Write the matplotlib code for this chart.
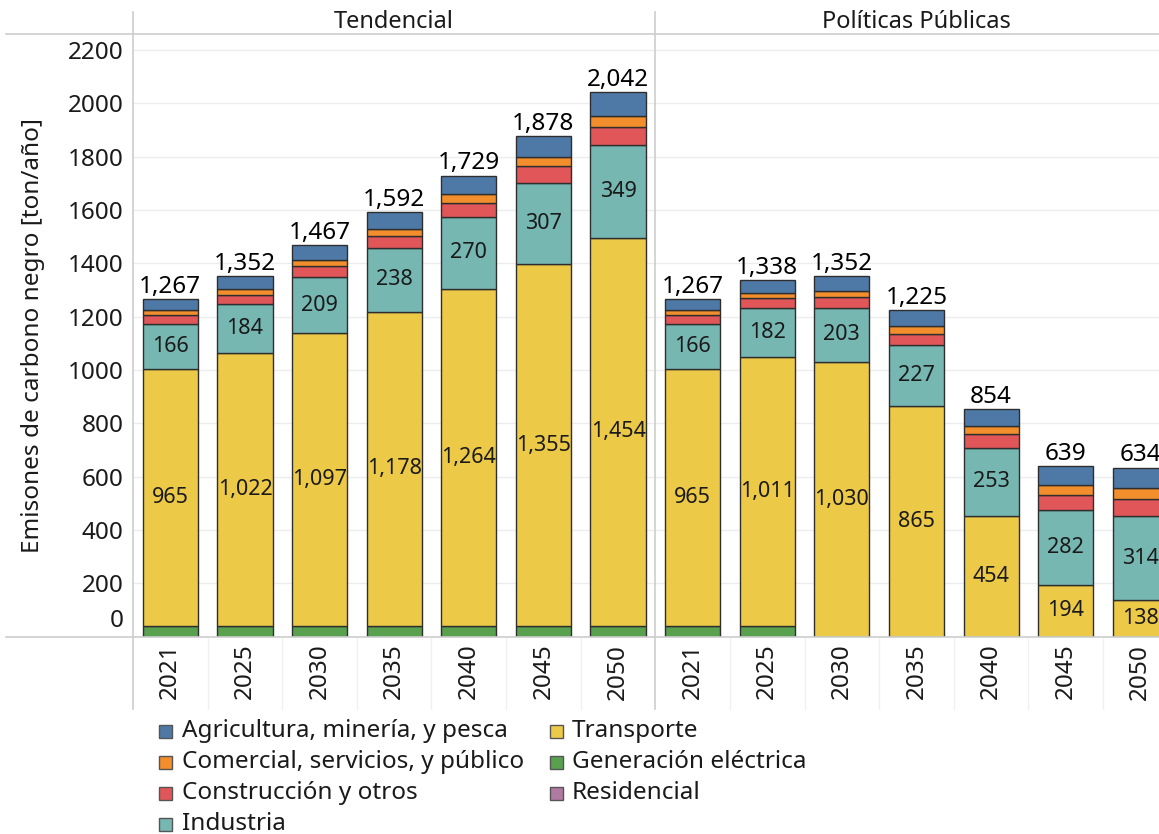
import matplotlib
matplotlib.use("Agg")
import matplotlib.pyplot as plt
import numpy as np
from matplotlib.patches import Rectangle
from matplotlib.lines import Line2D
from matplotlib.transforms import blended_transform_factory

plt.rcParams['font.family'] = ['Noto Sans', 'DejaVu Sans']

# ---------------- data ----------------
years = ['2021', '2025', '2030', '2035', '2040', '2045', '2050']
scenarios = ['Tendencial', 'Políticas Públicas']

# Tendencial
generacion_tend = [40, 40, 41, 41, 41, 41, 41]
transporte_tend = [965, 1022, 1097, 1178, 1264, 1355, 1454]
industria_tend = [166, 184, 209, 238, 270, 307, 349]
construccion_tend = [34, 36, 43, 44, 53, 62, 66]
comercial_tend = [19, 21, 21, 29, 33, 35, 44]
agricultura_tend = [43, 49, 56, 62, 68, 78, 88]
residencial_tend = [0, 0, 0, 0, 0, 0, 0]

# Políticas Públicas
generacion_pp = [40, 39, 0, 0, 0, 0, 0]
transporte_pp = [965, 1011, 1030, 865, 454, 194, 138]
industria_pp = [166, 182, 203, 227, 253, 282, 314]
construccion_pp = [34, 38, 39, 43, 52, 54, 64]
comercial_pp = [19, 20, 25, 31, 30, 38, 41]
agricultura_pp = [43, 48, 55, 59, 65, 71, 77]
residencial_pp = [0, 0, 0, 0, 0, 0, 0]

colors = {
    'Agricultura, minería, y pesca': '#4e79a7',
    'Comercial, servicios, y público': '#f28e2b',
    'Construcción y otros': '#e15759',
    'Industria': '#76b7b2',
    'Transporte': '#edc948',
    'Generación eléctrica': '#59a14f',
    'Residencial': '#b07aa1',
}

# stacking order, bottom to top
stack = [
    ('Generación eléctrica', generacion_tend + generacion_pp, False),
    ('Transporte', transporte_tend + transporte_pp, True),
    ('Industria', industria_tend + industria_pp, True),
    ('Construcción y otros', construccion_tend + construccion_pp, False),
    ('Comercial, servicios, y público', comercial_tend + comercial_pp, False),
    ('Agricultura, minería, y pesca', agricultura_tend + agricultura_pp, False),
    ('Residencial', residencial_tend + residencial_pp, False),
]

legend_cols = [
    ['Agricultura, minería, y pesca', 'Comercial, servicios, y público',
     'Construcción y otros', 'Industria'],
    ['Transporte', 'Generación eléctrica', 'Residencial'],
]

# ---------------- layout ----------------
W, H = 1159, 834
fig = plt.figure(figsize=(W / 100, H / 100), dpi=100)


def fx(px):
    return px / W


def fy(py):
    return 1 - py / H


base_px, top_px, left_px = 636.7, 34, 133
ax = fig.add_axes([fx(left_px), fy(base_px), 1 - fx(left_px), fy(top_px) - fy(base_px)])

n = len(years)
x = np.arange(2 * n)
bar_w = 0.74
edge = '#2e2e2e'
txt = '#1a1a1a'

bottom = np.zeros(len(x))
for name, vals, show in stack:
    v = np.array(vals, dtype=float)
    m = v > 0
    if m.any():
        ax.bar(x[m], v[m], width=bar_w, bottom=bottom[m], color=colors[name],
               edgecolor=edge, linewidth=1.0, zorder=3)
    if show:
        for xi, vi, bi in zip(x, v, bottom):
            if vi > 0:
                ax.text(xi, bi + vi / 2, f'{int(vi):,}', ha='center', va='center',
                        fontsize=15.5, color=txt, zorder=4)
    bottom += v

for xi, tot in zip(x, bottom):
    ax.annotate(f'{int(tot):,}', (xi, tot), xytext=(0, 4.5), textcoords='offset points',
                ha='center', va='baseline', fontsize=17.5, color='black', zorder=5,
                annotation_clip=False)

ax.set_xlim(-0.5, 13.25)
ax.set_ylim(0, 2260)

yt = list(range(0, 2201, 200))
ax.set_yticks(yt)
ax.set_yticklabels([''] + [str(t) for t in yt[1:]])
ax.tick_params(axis='y', length=0, pad=7, labelsize=17.5, labelcolor=txt)
ax.annotate('0', xy=(0, 0), xycoords=('axes fraction', 'data'), xytext=(-7, 11.5),
            textcoords='offset points', ha='right', va='center', fontsize=17.5, color=txt)

ax.set_xticks(x)
ax.set_xticklabels(years * 2, rotation=90)
ax.tick_params(axis='x', length=0, pad=5, labelsize=17.5, labelcolor=txt)

ax.grid(axis='y', color='#ededed', linewidth=1)
ax.set_axisbelow(True)
for s in ax.spines.values():
    s.set_visible(False)

# frame lines
line_c = '#cdcdcd'
fig.add_artist(Line2D([fx(6), 1], [fy(top_px), fy(top_px)], color=line_c, lw=1.2))
fig.add_artist(Line2D([fx(6), 1], [fy(base_px), fy(base_px)], color=line_c, lw=1.2))
fig.add_artist(Line2D([fx(left_px), fx(left_px)], [fy(12), fy(709)], color=line_c, lw=1.2))

bt = blended_transform_factory(ax.transData, fig.transFigure)
fig.add_artist(Line2D([n - 0.5, n - 0.5], [fy(12), fy(709)], color=line_c, lw=1.2,
                      transform=bt))
for b in np.arange(0.5, 2 * n - 0.5, 1.0):
    if b == n - 0.5:
        continue
    fig.add_artist(Line2D([b, b], [fy(base_px + 1), fy(709)], color='#f0f0f0', lw=1,
                          transform=bt))

# panel headers
for i, sc in enumerate(scenarios):
    fig.text((n - 1) / 2 + i * n, fy(22), sc, transform=bt, ha='center', va='center',
             fontsize=17, color=txt)

fig.text(fx(33), (fy(top_px) + fy(base_px)) / 2, 'Emisones de carbono negro [ton/año]',
         rotation=90, ha='center', va='center', fontsize=17.5, color=txt)

# legend
col_sq = [159, 550]
col_tx = [182, 572]
sq = 13
for c, names in enumerate(legend_cols):
    for r, name in enumerate(names):
        yc = 731 + 31 * r
        fig.add_artist(Rectangle((fx(col_sq[c]), fy(yc + sq / 2)), sq / W, sq / H,
                                 facecolor=colors[name], edgecolor='#555555', lw=1,
                                 transform=fig.transFigure))
        fig.text(fx(col_tx[c]), fy(yc), name, ha='left', va='center', fontsize=17.5,
                 color=txt)

fig.savefig('out.png', dpi=100, facecolor='white')
